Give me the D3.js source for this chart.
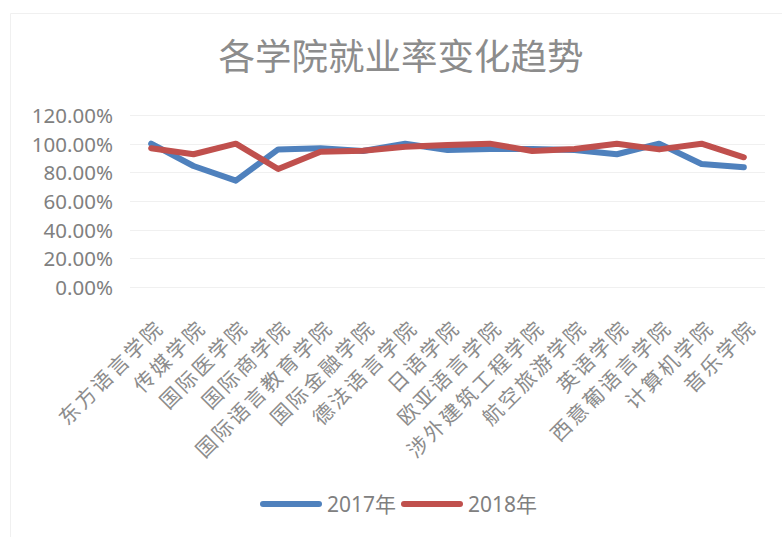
<!DOCTYPE html>
<html>
<head>
<meta charset="utf-8">
<script src="https://cdn.jsdelivr.net/npm/d3@7"></script>
<style>
  body { margin: 0; background: #fff; }
</style>
</head>
<body>
<div id="vis1"></div>
<script>
const COLLEGES = ["东方语言学院", "传媒学院", "国际医学院", "国际商学院", "国际语言教育学院",
  "国际金融学院", "德法语言学院", "日语学院", "欧亚语言学院", "涉外建筑工程学院",
  "航空旅游学院", "英语学院", "西意葡语言学院", "计算机学院", "音乐学院"];
const RATE_2017 = [1.00, 0.844, 0.742, 0.96, 0.968, 0.949, 1.00, 0.956, 0.963, 0.963, 0.956, 0.926, 1.00, 0.858, 0.835];
const RATE_2018 = [0.968, 0.926, 1.00, 0.823, 0.944, 0.95, 0.979, 0.991, 1.00, 0.949, 0.963, 1.00, 0.96, 1.00, 0.905];
const Y_TICKS = [0, 0.2, 0.4, 0.6, 0.8, 1.0, 1.2];
const SERIES = [
  {name: "2017年", values: RATE_2017, color: "#4f81bd"},
  {name: "2018年", values: RATE_2018, color: "#c0504d"}
];

const FRAME_WIDTH = 782;
const FRAME_HEIGHT = 537;
const PLOT = {left: 130, right: 765, top: 115, bottom: 287};

const svg = d3.select("#vis1")
  .append("svg")
  .attr("width", FRAME_WIDTH)
  .attr("height", FRAME_HEIGHT);

// faint chart-area border (left and top edges visible)
svg.append("path")
  .attr("d", `M10.5,${FRAME_HEIGHT} V13.5 H${FRAME_WIDTH}`)
  .attr("fill", "none")
  .attr("stroke", "#f0f0f0")
  .attr("stroke-width", 1);

// title
svg.append("text")
  .attr("x", 401)
  .attr("y", 70)
  .attr("text-anchor", "middle")
  .attr("font-family", "Noto Sans CJK SC")
  .attr("font-size", "36.5px")
  .attr("fill", "#8c8c8c")
  .text("各学院就业率变化趋势");

const x = d3.scaleBand()
  .domain(COLLEGES)
  .range([PLOT.left, PLOT.right]);

const y = d3.scaleLinear()
  .domain([0, 1.2])
  .range([PLOT.bottom, PLOT.top]);

// gridlines
svg.append("g")
  .selectAll("line")
  .data(Y_TICKS)
  .enter().append("line")
  .attr("x1", PLOT.left)
  .attr("x2", PLOT.right)
  .attr("y1", d => Math.round(y(d)) + 0.5)
  .attr("y2", d => Math.round(y(d)) + 0.5)
  .attr("stroke", "#f0f0f0")
  .attr("stroke-width", 1);

// y axis labels
const yAxis = d3.axisLeft(y)
  .tickValues(Y_TICKS)
  .tickFormat(d3.format(".2%"))
  .tickSize(0)
  .tickPadding(0);

const yG = svg.append("g")
  .attr("transform", "translate(113, 1)")
  .call(yAxis);
yG.select(".domain").remove();
yG.selectAll("text")
  .attr("font-family", "Noto Sans")
  .attr("font-size", "20.5px")
  .attr("fill", "#808080");

// x axis labels, rotated
svg.append("g")
  .selectAll("text")
  .data(COLLEGES)
  .enter().append("text")
  .attr("transform", d => `translate(${x(d) + x.bandwidth() / 2 + 14}, 329) rotate(-45)`)
  .attr("text-anchor", "end")
  .attr("font-family", "Noto Sans CJK SC")
  .attr("font-size", "20.5px")
  .attr("letter-spacing", "2.5px")
  .attr("fill", "#8c8c8c")
  .text(d => d);

// lines
const line = d3.line()
  .x((d, i) => x(COLLEGES[i]) + x.bandwidth() / 2)
  .y(d => y(d));

svg.append("g")
  .selectAll("path")
  .data(SERIES)
  .enter().append("path")
  .attr("d", d => line(d.values))
  .attr("fill", "none")
  .attr("stroke", d => d.color)
  .attr("stroke-width", 6)
  .attr("stroke-linejoin", "round")
  .attr("stroke-linecap", "round");

// legend
const legend = svg.append("g")
  .selectAll("g")
  .data(SERIES)
  .enter().append("g")
  .attr("transform", (d, i) => `translate(${263 + i * 141}, 504)`);

legend.append("line")
  .attr("x1", 0)
  .attr("x2", 56)
  .attr("stroke", d => d.color)
  .attr("stroke-width", 6)
  .attr("stroke-linecap", "round");

legend.append("text")
  .attr("x", 64)
  .attr("dy", "0.36em")
  .attr("font-family", "Noto Sans, Noto Sans CJK SC")
  .attr("font-size", "21px")
  .attr("fill", "#808080")
  .text(d => d.name);
</script>
</body>
</html>
